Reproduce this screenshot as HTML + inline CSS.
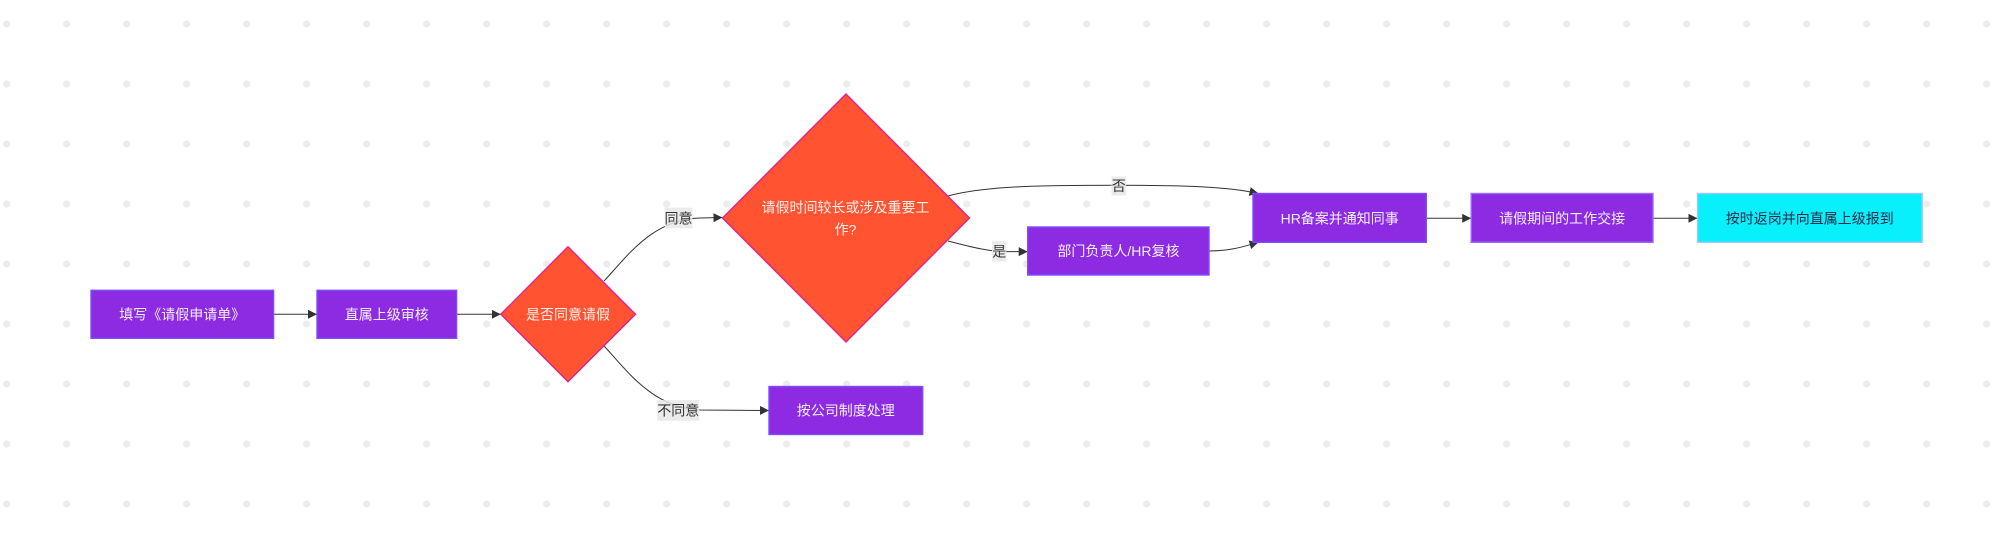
<!DOCTYPE html>
<html>
<head>
<meta charset="utf-8">
<style>
  html,body{margin:0;padding:0;background:#fff;}
  svg{display:block;}
  text{font-family:"Liberation Sans","Noto Sans CJK SC",sans-serif;font-size:14px;}
</style>
</head>
<body>
<svg width="1992" height="550" viewBox="0 0 1992 550" xmlns="http://www.w3.org/2000/svg">
  <defs>
    <pattern id="dots" patternUnits="userSpaceOnUse" x="-23.3" y="-6" width="60" height="60">
      <circle cx="30" cy="30" r="3.6" fill="#ececec"/>
    </pattern>
    <marker id="arr" viewBox="0 0 10 10" refX="10" refY="5" markerWidth="9" markerHeight="9" markerUnits="userSpaceOnUse" orient="auto">
      <path d="M0,0 L10,5 L0,10 z" fill="#333"/>
    </marker>
  </defs>
  <rect width="1992" height="550" fill="#fff"/>
  <rect width="1992" height="550" fill="url(#dots)"/>

  <!-- edges -->
  <g fill="none" stroke="#333" stroke-width="1">
    <path d="M273.6,314.3 L317,314.3" marker-end="url(#arr)"/>
    <path d="M456.6,314.3 L500.8,314.3" marker-end="url(#arr)"/>
    <path d="M604,281 C626,258 652,219 700,218 L722.5,217.5" marker-end="url(#arr)"/>
    <path d="M604,346 C626,369 652,408 700,410 L769,410.5" marker-end="url(#arr)"/>
    <path d="M948,196 C985,186 1040,185.3 1118,185.3 C1190,185.3 1230,187 1258.5,193.5" marker-end="url(#arr)"/>
    <path d="M948,241 C975,248 990,251.5 1005,251.6 L1027.7,251.7" marker-end="url(#arr)"/>
    <path d="M1209,251 C1230,251 1242,247 1258.5,242.3" marker-end="url(#arr)"/>
    <path d="M1426.3,218.3 L1471.2,218.3" marker-end="url(#arr)"/>
    <path d="M1653,218.3 L1697.5,218.3" marker-end="url(#arr)"/>
  </g>

  <!-- edge labels -->
  <g>
    <rect x="664.7" y="207.7" width="27.7" height="20.6" fill="#e8e8e8" opacity="0.85"/>
    <text x="678.5" y="218.3" text-anchor="middle" dominant-baseline="central" fill="#333">同意</text>
    <rect x="657.3" y="400" width="42" height="20.7" fill="#e8e8e8" opacity="0.85"/>
    <text x="678.3" y="410.5" text-anchor="middle" dominant-baseline="central" fill="#333">不同意</text>
    <rect x="1111.5" y="176.5" width="14.5" height="19" fill="#e8e8e8" opacity="0.85"/>
    <text x="1118.7" y="186" text-anchor="middle" dominant-baseline="central" fill="#333">否</text>
    <rect x="992" y="241" width="14.5" height="20.5" fill="#e8e8e8" opacity="0.85"/>
    <text x="999.2" y="251.3" text-anchor="middle" dominant-baseline="central" fill="#333">是</text>
  </g>

  <!-- nodes -->
  <g stroke-width="1.4">
    <rect x="91" y="290.3" width="182.6" height="48" fill="#8c2be2" stroke="#7a4dff"/>
    <text x="182.3" y="314.3" text-anchor="middle" dominant-baseline="central" fill="#f4f0ff">填写《请假申请单》</text>

    <rect x="317" y="290.3" width="139.6" height="48" fill="#8c2be2" stroke="#7a4dff"/>
    <text x="386.8" y="314.3" text-anchor="middle" dominant-baseline="central" fill="#f4f0ff">直属上级审核</text>

    <polygon points="568,246.7 635.5,314.3 568,381.7 500.8,314.3" fill="#ff5331" stroke="#e0248c"/>
    <text x="568" y="314.3" text-anchor="middle" dominant-baseline="central" fill="#fff0ec">是否同意请假</text>

    <polygon points="846,94 969.5,218 846,342 722.5,218" fill="#ff5331" stroke="#e0248c"/>
    <text x="845.5" y="207.5" text-anchor="middle" dominant-baseline="central" fill="#fff0ec">请假时间较长或涉及重要工</text>
    <text x="845.5" y="229.5" text-anchor="middle" dominant-baseline="central" fill="#fff0ec">作?</text>

    <rect x="769" y="386.5" width="153.7" height="48" fill="#8c2be2" stroke="#7a4dff"/>
    <text x="845.8" y="410.5" text-anchor="middle" dominant-baseline="central" fill="#f4f0ff">按公司制度处理</text>

    <rect x="1027.7" y="227" width="181.3" height="48" fill="#8c2be2" stroke="#7a4dff"/>
    <text x="1118.4" y="251" text-anchor="middle" dominant-baseline="central" fill="#f4f0ff">部门负责人/HR复核</text>

    <rect x="1253" y="193.5" width="173.3" height="48.8" fill="#8c2be2" stroke="#7a4dff"/>
    <text x="1339.7" y="218.3" text-anchor="middle" dominant-baseline="central" fill="#f4f0ff">HR备案并通知同事</text>

    <rect x="1471.2" y="193.5" width="181.8" height="48.8" fill="#8c2be2" stroke="#9a6bff"/>
    <text x="1562.1" y="218.3" text-anchor="middle" dominant-baseline="central" fill="#f4f0ff">请假期间的工作交接</text>

    <rect x="1697.5" y="193.5" width="224.7" height="48.8" fill="#08f0fc" stroke="#9cc8ff"/>
    <text x="1809.8" y="218.3" text-anchor="middle" dominant-baseline="central" fill="#2a2a4a">按时返岗并向直属上级报到</text>
  </g>
</svg>
</body>
</html>
